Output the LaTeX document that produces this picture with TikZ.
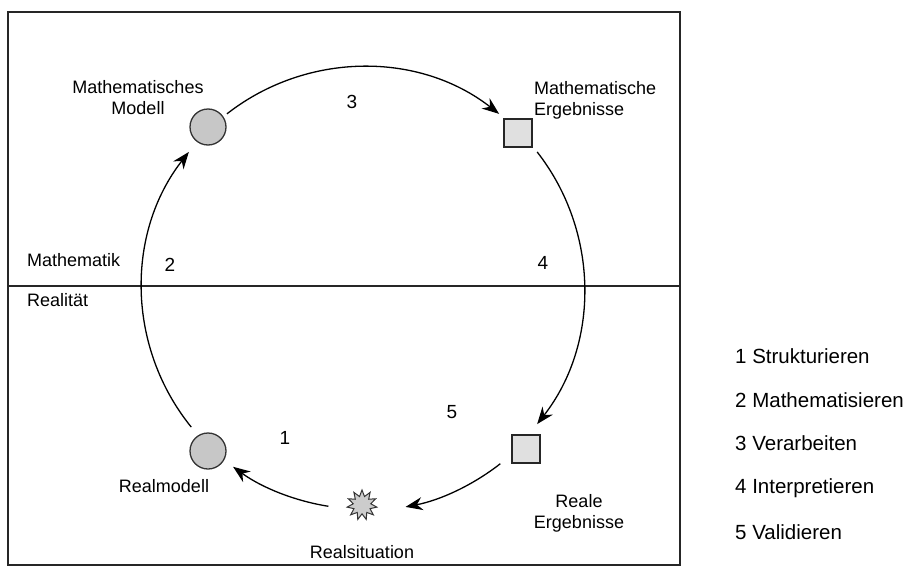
\documentclass[tikz,border=0pt]{standalone}
\usepackage{fontspec}
\setmainfont{Liberation Sans}
\usetikzlibrary{shapes.geometric,arrows.meta,calc}
\begin{document}
\begin{tikzpicture}[x=1pt,y=1pt,
  lbl/.style={font=\fontsize{18}{21}\selectfont,inner sep=0pt,align=center},
  leg/.style={font=\fontsize{20.5}{24}\selectfont,inner sep=0pt,anchor=west},
  num/.style={font=\fontsize{19}{22}\selectfont,inner sep=0pt},
  rnd/.style={circle,draw=black!80,line width=1.3pt,fill=black!22,minimum size=36pt,inner sep=0pt},
  sqr/.style={rectangle,draw=black!85,line width=1.8pt,fill=black!12,minimum size=28pt,inner sep=0pt},
  strn/.style={star,star points=11,star point ratio=1.7,draw=black!80,line width=1pt,fill=black!20,minimum size=30pt,inner sep=0pt},
  arr/.style={line width=1.3pt,-{Stealth[length=17pt,width=13pt]}},
  frame/.style={line width=1.1pt,draw=black!85}]
\useasboundingbox (0,0) rectangle (909,-570);
% frame and divider
\draw[frame] (8,-12) rectangle (680,-565);
\coordinate (dl) at (8,-286);
\coordinate (dr) at (680,-286);
\draw[frame] (dl) -- (dr);
% cycle centre
\coordinate (c) at (363,-288);
% nodes
\node[rnd] (mm) at (208,-127) {};
\node[sqr] (me) at (518,-133) {};
\node[sqr] (re) at (526,-449) {};
\node[rnd] (rm) at (208,-451) {};
\node[strn] (rs) at (362,-505) {};
% arcs
\coordinate (a1) at ($(c)+(-99:221)$);
\coordinate (a2) at ($(c)+(219:221)$);
\coordinate (a3) at ($(c)+(128:221)$);
\coordinate (a4) at ($(c)+(38:221)$);
\coordinate (a5) at ($(c)+(-52:223)$);
\draw[arr] (a1) arc[start angle=-99,end angle=-126,radius=221];
\draw[arr] (a2) arc[start angle=219,end angle=142,radius=221];
\draw[arr] (a3) arc[start angle=128,end angle=52,radius=221];
\draw[arr] (a4) arc[start angle=38,end angle=-38,radius=221];
\draw[arr] (a5) arc[start angle=-52,end angle=-79,radius=223];
% labels
\node[lbl] (tmm) at (138,-98) {Mathematisches\\Modell};
\node[lbl,align=left,anchor=west] (tme) at (534,-100) {Mathematische\\Ergebnisse};
\node[lbl,anchor=west] (tma) at (27,-260) {Mathematik};
\node[lbl,anchor=west] (tre) at (27,-300) {Realität};
\node[lbl] (trm) at (164,-486) {Realmodell};
\node[lbl] (tree) at (579,-513) {Reale\\Ergebnisse};
\node[lbl] (trs) at (362,-552) {Realsituation};
% numbers
\node[num] (n1) at (285,-438) {1};
\node[num] (n2) at (170,-265) {2};
\node[num] (n3) at (352,-102) {3};
\node[num] (n4) at (543,-263) {4};
\node[num] (n5) at (452,-412) {5};
% legend
\node[leg] (l1) at (735,-356) {1 Strukturieren};
\node[leg] (l2) at (735,-400) {2 Mathematisieren};
\node[leg] (l3) at (735,-443) {3 Verarbeiten};
\node[leg] (l4) at (735,-488) {4 Interpretieren};
\node[leg] (l5) at (735,-532) {5 Validieren};
\end{tikzpicture}
\end{document}
